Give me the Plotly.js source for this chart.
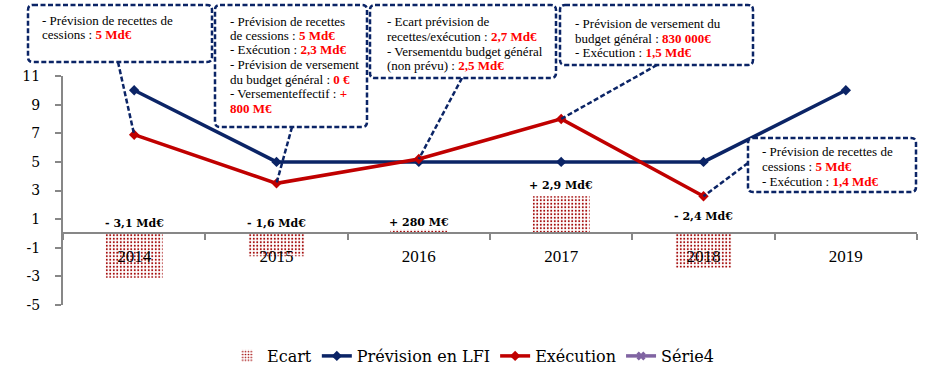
<!DOCTYPE html>
<html>
<head>
<meta charset="utf-8">
<script src="https://cdn.plot.ly/plotly-3.0.1.min.js"></script>
<style>html,body{margin:0;padding:0;background:#fff;}#chart{width:935px;height:386px;}</style>
</head>
<body>
<div id="chart"></div>
<script>
// ---- Data ----
const categories = ['2014', '2015', '2016', '2017', '2018', '2019'];
const ecart = [-3.1, -1.6, 0.28, 2.6, -2.4, null];
const prevision = [10, 5, 5, 5, 5, 10];
const execution = [6.9, 3.5, 5.2, 8.0, 2.6, null];
const serie4 = [null, null, null, null, null, null];
const ecartLabels = ['- 3,1 Md€', '- 1,6 Md€', '+ 280 M€', '+ 2,9 Md€', '- 2,4 Md€'];
const yTicks = [-5, -3, -1, 1, 3, 5, 7, 9, 11];

const R = s => '<span style="color:#ff0000"><b>' + s + '</b></span>';
const boxTexts = [
  ['- Prévision de recettes de', 'cessions : ' + R('5 Md€')],
  ['- Prévision de recettes', 'de cessions : ' + R('5 Md€'), '- Exécution : ' + R('2,3 Md€'),
   '- Prévision de versement', 'du budget général : ' + R('0 €'), '- Versementeffectif : ' + R('+'), R('800 M€')],
  ['- Ecart prévision de', 'recettes/exécution : ' + R('2,7 Md€'), '- Versementdu budget général', '(non prévu) : ' + R('2,5 Md€')],
  ['- Prévision de versement du', 'budget général : ' + R('830 000€'), '- Exécution : ' + R('1,5 Md€')],
  ['- Prévision de recettes de', 'cessions : ' + R('5 Md€'), '- Exécution : ' + R('1,4 Md€')]
];

// ---- Layout geometry ----
const W = 935, H = 386;
const M = {l: 63, r: 18, t: 76, b: 81};
const YMIN = -5, YMAX = 11;
const plotW = W - M.l - M.r, plotH = H - M.t - M.b;
const px = x => (x - M.l) / plotW;
const py = y => (H - M.b - y) / plotH;
const dataXpix = i => M.l + (i + 0.5) * plotW / categories.length;
const dataYpix = v => M.t + (YMAX - v) / (YMAX - YMIN) * plotH;

const NAVY = '#0b2466';
const RED = '#c00000';
const GREY = '#878787';
const FONT = 'Liberation Serif';
const FONT2 = 'DejaVu Serif';

const boxes = [
  {x0: 28, x1: 212, y0: 5, y1: 62, tx: 40, ty: 20, lh: 14.5, from: [118, 62], to: 0},
  {x0: 215, x1: 367, y0: 5, y1: 127, tx: 228, ty: 21, lh: 14.5, from: [292, 127], to: 1},
  {x0: 370, x1: 556, y0: 5, y1: 78, tx: 385, ty: 22, lh: 14.6, from: [462, 78], to: 2},
  {x0: 560, x1: 753, y0: 5, y1: 65, tx: 573, ty: 23.5, lh: 14.5, from: [657, 65], to: 3},
  {x0: 748, x1: 916, y0: 138, y1: 192, tx: 760, ty: 151.5, lh: 15, from: [748, 163], to: 4}
];

function roundRect(b, r) {
  const X0 = px(b.x0), X1 = px(b.x1), Y0 = py(b.y0), Y1 = py(b.y1);
  const rx = r / plotW, ry = r / plotH;
  return 'M' + (X0 + rx) + ',' + Y0 + ' L' + (X1 - rx) + ',' + Y0 +
    ' Q' + X1 + ',' + Y0 + ' ' + X1 + ',' + (Y0 - ry) +
    ' L' + X1 + ',' + (Y1 + ry) + ' Q' + X1 + ',' + Y1 + ' ' + (X1 - rx) + ',' + Y1 +
    ' L' + (X0 + rx) + ',' + Y1 + ' Q' + X0 + ',' + Y1 + ' ' + X0 + ',' + (Y1 + ry) +
    ' L' + X0 + ',' + (Y0 - ry) + ' Q' + X0 + ',' + Y0 + ' ' + (X0 + rx) + ',' + Y0 + ' Z';
}

const dashLine = {color: NAVY, width: 2.5, dash: '5px,2.5px'};
const shapes = [];
const annotations = [];

boxes.forEach((b, k) => {
  shapes.push({
    type: 'line', xref: 'paper', yref: 'paper', layer: 'above',
    x0: px(b.from[0]), y0: py(b.from[1]),
    x1: px(dataXpix(b.to)), y1: py(dataYpix(execution[b.to])),
    line: dashLine
  });
  shapes.push({
    type: 'path', xref: 'paper', yref: 'paper', layer: 'above',
    path: roundRect(b, 5), fillcolor: '#ffffff', line: dashLine
  });
  boxTexts[k].forEach((t, j) => {
    annotations.push({
      xref: 'paper', yref: 'paper', x: px(b.tx), y: py(b.ty + j * b.lh),
      xanchor: 'left', yanchor: 'middle', showarrow: false, align: 'left',
      text: t, font: {family: FONT, size: 13, color: '#000'}
    });
  });
});

const labelY = [0.7, 0.7, 0.77, 3.35, 1.2];
ecartLabels.forEach((t, i) => {
  annotations.push({
    xref: 'x', yref: 'y', x: i, y: labelY[i], showarrow: false,
    text: '<b>' + t + '</b>', font: {family: FONT2, size: 11, color: '#000'}
  });
});

const traces = [
  {
    type: 'bar', name: 'Ecart', x: categories, y: ecart, width: 0.4,
    marker: {color: '#ffffff', line: {width: 0},
      pattern: {shape: '.', fgcolor: '#a00000', bgcolor: '#ffffff', size: 3.5, solidity: 0.25}},
    hoverinfo: 'skip'
  },
  {
    type: 'scatter', mode: 'lines+markers', name: 'Prévision en LFI', x: categories, y: prevision,
    line: {color: NAVY, width: 3.5}, marker: {symbol: 'diamond', size: 8, color: NAVY}
  },
  {
    type: 'scatter', mode: 'lines+markers', name: 'Exécution', x: categories, y: execution,
    line: {color: RED, width: 3.5}, marker: {symbol: 'diamond', size: 8, color: RED}
  },
  {
    type: 'scatter', mode: 'lines+markers', name: 'Série4', x: categories, y: serie4,
    line: {color: '#8064a2', width: 3.5}, marker: {symbol: 'x', size: 8, color: '#8064a2'}
  }
];

const layout = {
  width: W, height: H,
  margin: M,
  paper_bgcolor: '#ffffff', plot_bgcolor: '#ffffff',
  font: {family: FONT, size: 16, color: '#000'},
  showlegend: true,
  legend: {orientation: 'h', x: px(473), xanchor: 'center', y: py(356), yanchor: 'middle',
    font: {family: FONT2, size: 16, color: '#000'}, traceorder: 'normal'},
  bargap: 0.6,
  xaxis: {
    type: 'category', range: [-0.5, 5.5], anchor: 'free',
    position: (0 - YMIN) / (YMAX - YMIN),
    showline: true, linecolor: GREY, linewidth: 2,
    ticks: 'outside', tickson: 'boundaries', ticklen: 6, tickcolor: GREY, tickwidth: 2,
    showgrid: false, zeroline: false, ticklabelstandoff: 7,
    tickfont: {family: FONT, size: 17, color: '#000'}, fixedrange: true
  },
  yaxis: {
    range: [YMIN, YMAX], tickvals: yTicks, ticktext: yTicks.map(String),
    showline: true, linecolor: GREY, linewidth: 2,
    ticks: 'outside', ticklen: 6, tickcolor: GREY, tickwidth: 2,
    showgrid: false, zeroline: false, ticklabelstandoff: 12,
    tickfont: {family: FONT2, size: 14, color: '#000'}, fixedrange: true
  },
  shapes: shapes,
  annotations: annotations
};

Plotly.newPlot('chart', traces, layout, {displayModeBar: false, staticPlot: true});
</script>
</body>
</html>
